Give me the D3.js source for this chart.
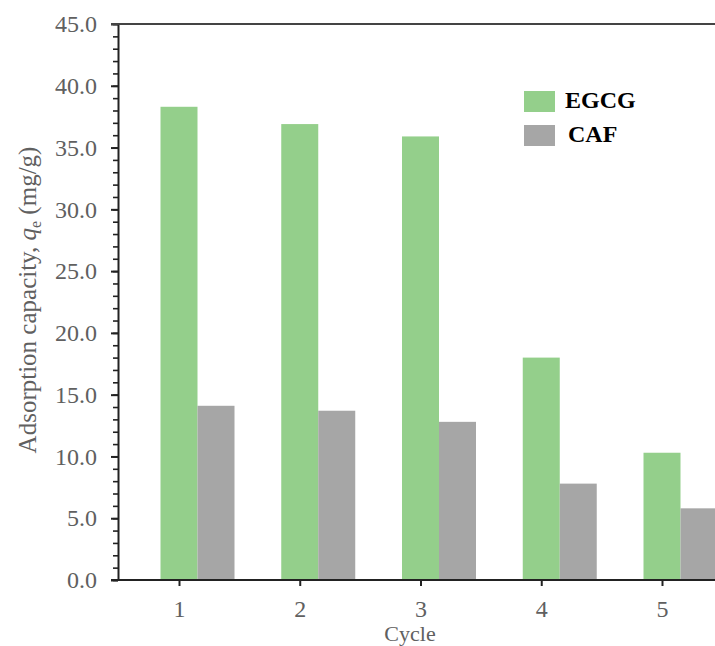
<!DOCTYPE html>
<html>
<head>
<meta charset="utf-8">
<script src="https://cdn.jsdelivr.net/npm/d3@7"></script>
<style>
  body { margin: 0; background: #fff; }
  text { font-family: "Liberation Serif", Tinos, "Nimbus Roman", FreeSerif, "Times New Roman", Times, serif; }
</style>
</head>
<body>
<svg id="chart" width="715" height="646"></svg>
<script>
'use strict';

// data
var cycles = ['1', '2', '3', '4', '5'];
var seriesNames = ['EGCG', 'CAF'];
var egcg = [38.3, 36.9, 35.9, 18.0, 10.3];
var caf = [14.1, 13.7, 12.8, 7.8, 5.8];
var seriesColors = ['#94cf8b', '#a6a6a6'];
var yTicks = [0, 5, 10, 15, 20, 25, 30, 35, 40, 45];

var svg = d3.select('#chart');
var plotLeft = 118, plotTop = 24, plotBottom = 580;

var x = d3.scalePoint()
  .domain(cycles)
  .range([179, 662]);

// offset of each series bar relative to the cycle tick
var xSub = d3.scaleBand()
  .domain(seriesNames)
  .range([-18.5, 55.5]);

var y = d3.scaleLinear()
  .domain([0, 45])
  .range([plotBottom, plotTop]);

var rows = cycles.map(function (c, i) {
  return {cycle: c, values: [egcg[i], caf[i]]};
});

// bars
var groups = svg.append('g')
  .selectAll('g')
  .data(rows)
  .enter()
  .append('g')
  .attr('transform', function (d) { return 'translate(' + x(d.cycle) + ',0)'; });

groups.selectAll('rect')
  .data(function (d) {
    return d.values.map(function (v, j) { return {name: seriesNames[j], value: v, color: seriesColors[j]}; });
  })
  .enter()
  .append('rect')
  .attr('x', function (d) { return xSub(d.name); })
  .attr('width', xSub.bandwidth())
  .attr('y', function (d) { return y(d.value); })
  .attr('height', function (d) { return plotBottom - y(d.value); })
  .attr('fill', function (d) { return d.color; });

// y axis: minor ticks
svg.append('g')
  .attr('transform', 'translate(' + plotLeft + ',0)')
  .call(d3.axisLeft(y).tickValues(d3.range(0, 46, 1)).tickSize(5).tickFormat(''))
  .call(function (g) { g.select('.domain').remove(); })
  .selectAll('line').attr('stroke', '#222').attr('stroke-width', 1.6);

// y axis: major ticks
var yAxis = svg.append('g')
  .attr('transform', 'translate(' + plotLeft + ',0)')
  .call(d3.axisLeft(y).tickValues(yTicks).tickSize(7).tickSizeOuter(0).tickPadding(14).tickFormat(d3.format('.1f')));
yAxis.select('.domain').attr('stroke', '#222').attr('stroke-width', 2);
yAxis.selectAll('line').attr('stroke', '#222').attr('stroke-width', 2);
yAxis.selectAll('text')
  .attr('font-size', 24)
  .attr('fill', '#606060');

// top frame line
svg.append('line')
  .attr('x1', plotLeft - 7).attr('x2', 715)
  .attr('y1', y(45)).attr('y2', y(45))
  .attr('stroke', '#444').attr('stroke-width', 2);

// x axis
var xAxis = svg.append('g')
  .attr('transform', 'translate(0,' + plotBottom + ')')
  .call(d3.axisBottom(x).tickSize(6).tickSizeOuter(0).tickPadding(14));
xAxis.select('.domain').attr('d', 'M' + (plotLeft - 7) + ',0H715').attr('stroke', '#222').attr('stroke-width', 2);
xAxis.selectAll('line').attr('stroke', '#222').attr('stroke-width', 2);
xAxis.selectAll('text')
  .attr('font-size', 24)
  .attr('fill', '#606060');

// axis titles
svg.append('text')
  .attr('x', 410)
  .attr('y', 641)
  .attr('text-anchor', 'middle')
  .attr('font-size', 22)
  .attr('fill', '#606060')
  .text('Cycle');

var yTitle = svg.append('text')
  .attr('transform', 'translate(36,300) rotate(-90)')
  .attr('text-anchor', 'middle')
  .attr('font-size', 25)
  .attr('fill', '#606060');
yTitle.append('tspan').text('Adsorption capacity, ');
yTitle.append('tspan').attr('font-style', 'italic').text('q');
yTitle.append('tspan').attr('font-size', 16).attr('dy', 5).text('e');
yTitle.append('tspan').attr('dy', -5).text(' (mg/g)');

// legend
var legend = svg.append('g')
  .selectAll('g')
  .data(seriesNames)
  .enter()
  .append('g')
  .attr('transform', function (d, i) { return 'translate(524,' + (91 + i * 34) + ')'; });

legend.append('rect')
  .attr('width', 31)
  .attr('height', 21)
  .attr('fill', function (d, i) { return seriesColors[i]; });

legend.append('text')
  .attr('x', function (d, i) { return i === 0 ? 41 : 44; })
  .attr('y', 17)
  .attr('font-size', 24)
  .attr('font-weight', 'bold')
  .attr('fill', '#000')
  .text(function (d) { return d; });
</script>
</body>
</html>
